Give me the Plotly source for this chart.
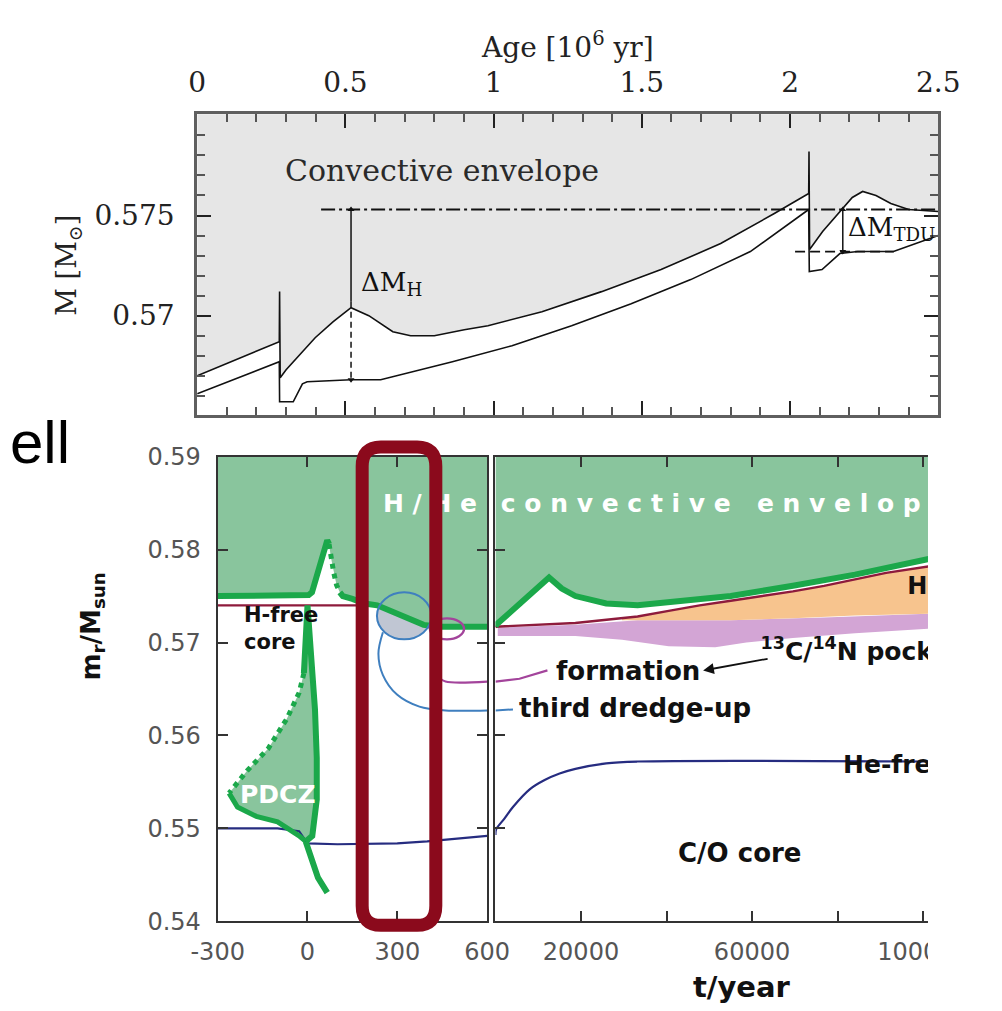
import plotly.graph_objects as go

W, H = 1002, 1011
NB = "\u00a0"

# ---------------- TOP PANEL DATA (age in 10^6 yr, mass in Msun) ----------------
top_xtick_vals = [0, 0.5, 1, 1.5, 2, 2.5]
top_xtick_text = ["0", "0.5", "1", "1.5", "2", "2.5"]
top_ytick_vals = [0.570, 0.575]
top_ytick_text = ["0.57", "0.575"]

env_base_age = [0.000, 0.277, 0.278, 0.280, 0.300, 0.338, 0.398, 0.459, 0.519, 0.579,
                0.660, 0.720, 0.800, 0.901, 0.981, 1.163, 1.364, 1.565, 1.766, 1.947,
                2.063, 2.064, 2.066, 2.110, 2.167, 2.210, 2.245, 2.290, 2.340, 2.400, 2.500]
env_base_mass = [0.5670, 0.5687, 0.5712, 0.5669, 0.5673, 0.5679, 0.5689, 0.5697, 0.5704, 0.5700,
                 0.5692, 0.5690, 0.5690, 0.5693, 0.5695, 0.5702, 0.5712, 0.5723, 0.5736, 0.5751,
                 0.5761, 0.5782, 0.5733, 0.5742, 0.5752, 0.5759, 0.5762, 0.5760, 0.5756, 0.5753, 0.5752]

core_age = [0.000, 0.277, 0.278, 0.324, 0.355, 0.371, 0.519, 0.619, 0.861, 1.062,
            1.263, 1.464, 1.665, 1.866, 2.063, 2.065, 2.108, 2.168, 2.228, 2.349, 2.500]
core_mass = [0.5661, 0.5677, 0.5657, 0.5657, 0.5666, 0.5667, 0.5668, 0.5668, 0.5677, 0.5685,
             0.5695, 0.5706, 0.5718, 0.5732, 0.5753, 0.5722, 0.5723, 0.5731, 0.5732, 0.5732, 0.5740]

dm_ref_high = 0.5753
dm_ref_high_span = [0.418, 2.5]
dm_ref_low = 0.5732
dm_ref_low_span = [2.017, 2.35]
dmh_age = 0.519
dmh_levels = [0.5753, 0.5707, 0.5668]
dmtdu_age = 2.178

# ---------------- BOTTOM-LEFT PANEL DATA (t in yr around pulse) ----------------
left_xtick_vals = [-300, 0, 300, 600]
left_xtick_text = ["-300", "0", "300", "600"]
bot_ytick_vals = [0.54, 0.55, 0.56, 0.57, 0.58, 0.59]
bot_ytick_text = ["0.54", "0.55", "0.56", "0.57", "0.58", "0.59"]

envL_t = [-300, 0, 4, 15, 30, 46, 58, 66, 72, 78, 87, 97, 108, 118, 150, 191, 233, 284, 337, 388, 440, 500, 600]
envL_m = [0.5750, 0.5750, 0.5751, 0.5754, 0.5772, 0.5792, 0.5804, 0.5810, 0.5806, 0.5792, 0.5776,
          0.5762, 0.5754, 0.5750, 0.5747, 0.5742, 0.5740, 0.5733, 0.5726, 0.5719, 0.5717, 0.5717, 0.5717]

hfreeL_t = [-300, 230, 284, 337, 389, 440, 600]
hfreeL_m = [0.5740, 0.5740, 0.5732, 0.5725, 0.5718, 0.5716, 0.5716]

hefreeL_t = [-300, -100, -28, -10, 0, 100, 300, 400, 500, 600]
hefreeL_m = [0.5500, 0.5500, 0.5497, 0.5489, 0.5484, 0.5483, 0.5484, 0.5486, 0.5489, 0.5492]

pdcz_t = [0, -12, -28, -69, -131, -202, -246, -262, -234, -171, -100, -28, -6, 16, 31, 31, 25, 16, 3, 0]
pdcz_m = [0.5740, 0.5667, 0.5646, 0.5618, 0.5586, 0.5562, 0.5544, 0.5538, 0.5523, 0.5513, 0.5507,
          0.5492, 0.5486, 0.5492, 0.5531, 0.5576, 0.5628, 0.5670, 0.5722, 0.5740]
pdcz_tail_t = [-6, 15, 35, 66]
pdcz_tail_m = [0.5486, 0.5465, 0.5447, 0.5431]

tdu_lead_L_t = [252, 237, 252, 299, 374, 461, 600]
tdu_lead_L_m = [0.5711, 0.5688, 0.5665, 0.5644, 0.5631, 0.5627, 0.5627]
form_lead_L_t = [430, 420, 440, 461, 600]
form_lead_L_m = [0.5705, 0.5669, 0.5662, 0.5658, 0.5658]

# ---------------- BOTTOM-RIGHT PANEL DATA (t in yr) ----------------
right_xtick_vals = [20000, 60000, 100000]
right_xtick_text = ["20000", "60000", "100000"]
right_ytick_vals = [0.55, 0.56, 0.57, 0.58]

envR_t = [0, 160, 12530, 15500, 18690, 25890, 33240, 40500, 55030, 69560, 84090, 101500]
envR_m = [0.5717, 0.5719, 0.5770, 0.5758, 0.5750, 0.5742, 0.5740, 0.5743, 0.5750, 0.5761, 0.5773, 0.5790]

hfreeR_t = [0, 160, 18690, 33230, 40500, 47750, 55030, 62290, 69550, 76830, 84090, 91350, 101530]
hfreeR_m = [0.5716, 0.5717, 0.5721, 0.5728, 0.5734, 0.5740, 0.5745, 0.5750, 0.5755, 0.5761, 0.5768, 0.5775, 0.5782]

orange_bot_t = [29600, 40500, 55030, 69550, 84090, 101530]
orange_bot_m = [0.5724, 0.5724, 0.5724, 0.5726, 0.5729, 0.5731]

purple_top_t = [530, 18690, 33230, 55030, 76830, 101530]
purple_top_m = [0.5716, 0.5719, 0.5724, 0.5724, 0.5727, 0.5731]
purple_bot_t = [530, 18690, 29600, 40500, 51390, 58660, 69550, 84090, 101530]
purple_bot_m = [0.5707, 0.5707, 0.5703, 0.5696, 0.5695, 0.5700, 0.5705, 0.5710, 0.5715]

hefreeR_t = [0, 160, 2000, 4090, 8000, 11500, 15000, 18690, 25890, 33300, 101150]
hefreeR_m = [0.5493, 0.5499, 0.5510, 0.5523, 0.5542, 0.5552, 0.5559, 0.5564, 0.5570, 0.5572, 0.5572]

tdu_lead_R_t = [0, 4090]
tdu_lead_R_m = [0.5627, 0.5628]
form_lead_R_t = [0, 5610, 12150]
form_lead_R_m = [0.5658, 0.5661, 0.5670]

# ---------------- colours ----------------
GREY_ENV = "#E6E6E6"
GREEN_FILL = "#89C59D"
GREEN_LINE = "#1BA84A"
NAVY = "#262C80"
MAROON = "#8E1B3C"
RED_BOX = "#8B0A1C"
BLUE_C = "#3F7FBF"
MAGENTA = "#A3449B"
ORANGE = "#F7C48E"
PURPLE = "#D3A5D5"

SERIF = "DejaVu Serif"
SANS = "DejaVu Sans"

fig = go.Figure()

def add(tr):
    tr.update(showlegend=False, hoverinfo="skip")
    fig.add_trace(tr)

TOP_CEIL = 0.581
BOT_CEIL = 0.60

# ---- top panel ----
add(go.Scatter(x=env_base_age + [2.5, 0], y=env_base_mass + [TOP_CEIL, TOP_CEIL], fill="toself",
               fillcolor=GREY_ENV, line=dict(width=0), mode="lines", xaxis="x", yaxis="y"))
add(go.Scatter(x=env_base_age, y=env_base_mass, mode="lines", line=dict(color="#111", width=1.6),
               xaxis="x", yaxis="y"))
add(go.Scatter(x=core_age, y=core_mass, mode="lines", line=dict(color="#111", width=1.6),
               xaxis="x", yaxis="y"))
add(go.Scatter(x=dm_ref_high_span, y=[dm_ref_high, dm_ref_high], mode="lines",
               line=dict(color="#111", width=1.8, dash="14px,4px,3px,4px"), xaxis="x", yaxis="y"))
add(go.Scatter(x=dm_ref_low_span, y=[dm_ref_low, dm_ref_low], mode="lines",
               line=dict(color="#111", width=1.8, dash="10px,5px"), xaxis="x", yaxis="y"))
add(go.Scatter(x=[dmh_age, dmh_age], y=dmh_levels[:2], mode="lines",
               line=dict(color="#111", width=1.5), xaxis="x", yaxis="y"))
add(go.Scatter(x=[dmh_age, dmh_age], y=dmh_levels[1:], mode="lines",
               line=dict(color="#111", width=1.5, dash="6px,4px"), xaxis="x", yaxis="y"))
add(go.Scatter(x=[dmh_age, dmh_age], y=[dmh_levels[0], dmh_levels[2]], mode="markers",
               marker=dict(symbol=["triangle-up", "triangle-down"], size=6, color="#111"),
               xaxis="x", yaxis="y"))
add(go.Scatter(x=[dmtdu_age, dmtdu_age], y=[dm_ref_high, dm_ref_low], mode="lines+markers",
               line=dict(color="#111", width=1.5),
               marker=dict(symbol=["triangle-up", "triangle-down"], size=6, color="#111"),
               xaxis="x", yaxis="y"))

# ---- bottom left panel ----
add(go.Scatter(x=envL_t + [600, -300], y=envL_m + [BOT_CEIL, BOT_CEIL], fill="toself",
               fillcolor=GREEN_FILL, line=dict(width=0), mode="lines", xaxis="x2", yaxis="y2"))
add(go.Scatter(x=pdcz_t, y=pdcz_m, fill="toself", fillcolor=GREEN_FILL, line=dict(width=0),
               mode="lines", xaxis="x2", yaxis="y2"))
add(go.Scatter(x=hfreeL_t, y=hfreeL_m, mode="lines", line=dict(color=MAROON, width=2.2),
               xaxis="x2", yaxis="y2"))
add(go.Scatter(x=hefreeL_t, y=hefreeL_m, mode="lines", line=dict(color=NAVY, width=2.2),
               xaxis="x2", yaxis="y2"))
add(go.Scatter(x=envL_t[:9], y=envL_m[:9], mode="lines", line=dict(color=GREEN_LINE, width=6),
               xaxis="x2", yaxis="y2"))
add(go.Scatter(x=envL_t[8:13], y=envL_m[8:13], mode="lines",
               line=dict(color=GREEN_LINE, width=5, dash="dot"), xaxis="x2", yaxis="y2"))
add(go.Scatter(x=envL_t[12:], y=envL_m[12:], mode="lines", line=dict(color=GREEN_LINE, width=6),
               xaxis="x2", yaxis="y2"))
add(go.Scatter(x=pdcz_t[1:8], y=pdcz_m[1:8], mode="lines",
               line=dict(color=GREEN_LINE, width=5, dash="dot"), xaxis="x2", yaxis="y2"))
add(go.Scatter(x=pdcz_t[7:13], y=pdcz_m[7:13], mode="lines", line=dict(color=GREEN_LINE, width=5),
               xaxis="x2", yaxis="y2"))
add(go.Scatter(x=pdcz_t[12:] + [pdcz_t[1]], y=pdcz_m[12:] + [pdcz_m[1]], mode="lines",
               line=dict(color=GREEN_LINE, width=6), xaxis="x2", yaxis="y2"))
add(go.Scatter(x=pdcz_tail_t, y=pdcz_tail_m, mode="lines", line=dict(color=GREEN_LINE, width=6),
               xaxis="x2", yaxis="y2"))
add(go.Scatter(x=tdu_lead_L_t, y=tdu_lead_L_m, mode="lines", line=dict(color=BLUE_C, width=2, shape="spline"),
               xaxis="x2", yaxis="y2"))
add(go.Scatter(x=form_lead_L_t, y=form_lead_L_m, mode="lines", line=dict(color=MAGENTA, width=2.2, shape="spline"),
               xaxis="x2", yaxis="y2"))
add(go.Scatter(x=[252], y=[0.5847], mode="text", text=[NB.join(["H", "/", "H", "e"])],
               textposition="middle right", textfont=dict(family=SANS, size=25, color="white", weight="bold"),
               xaxis="x2", yaxis="y2"))

# ---- bottom right panel ----
add(go.Scatter(x=envR_t + [101500, 0], y=envR_m + [BOT_CEIL, BOT_CEIL], fill="toself",
               fillcolor=GREEN_FILL, line=dict(width=0), mode="lines", xaxis="x3", yaxis="y3"))
add(go.Scatter(x=purple_top_t + purple_bot_t[::-1], y=purple_top_m + purple_bot_m[::-1], fill="toself",
               fillcolor=PURPLE, line=dict(width=0), mode="lines", xaxis="x3", yaxis="y3"))
orange_top_t = [29600] + hfreeR_t[3:]
orange_top_m = [0.5726] + hfreeR_m[3:]
add(go.Scatter(x=orange_top_t + orange_bot_t[::-1], y=orange_top_m + orange_bot_m[::-1], fill="toself",
               fillcolor=ORANGE, line=dict(width=0), mode="lines", xaxis="x3", yaxis="y3"))
add(go.Scatter(x=hfreeR_t, y=hfreeR_m, mode="lines", line=dict(color=MAROON, width=2.4),
               xaxis="x3", yaxis="y3"))
add(go.Scatter(x=envR_t, y=envR_m, mode="lines", line=dict(color=GREEN_LINE, width=6),
               xaxis="x3", yaxis="y3"))
add(go.Scatter(x=hefreeR_t, y=hefreeR_m, mode="lines", line=dict(color=NAVY, width=2.2, shape="spline"),
               xaxis="x3", yaxis="y3"))
add(go.Scatter(x=tdu_lead_R_t, y=tdu_lead_R_m, mode="lines", line=dict(color=BLUE_C, width=2),
               xaxis="x3", yaxis="y3"))
add(go.Scatter(x=form_lead_R_t, y=form_lead_R_m, mode="lines", line=dict(color=MAGENTA, width=2.2),
               xaxis="x3", yaxis="y3"))
env_words = NB.join(list("convective")) + NB * 3 + NB.join(list("envelop"))
right_texts = [
    (1250, 0.5847, env_words, "white", 25),
    (96300, 0.5759, "H-", "#111", 24),
    (62000, 0.5688, "<sup>13</sup>C/<sup>14</sup>N pock", "#111", 25),
    (81300, 0.5566, "He-fre", "#111", 25),
]
for tx, ty, tt, tc, ts in right_texts:
    add(go.Scatter(x=[tx], y=[ty], mode="text", text=[tt], textposition="middle right",
                   cliponaxis=True,
                   textfont=dict(family=SANS, size=ts, color=tc, weight="bold"),
                   xaxis="x3", yaxis="y3"))

# ---------------- layout ----------------
def px_x(p):
    return p / W

def px_y(p):
    return 1 - p / H

top_ax = dict(showline=True, linecolor="#5f5f5f", linewidth=3, mirror="ticks", ticks="inside",
              tickcolor="#222", tickwidth=2, ticklen=14, showgrid=False, zeroline=False,
              tickfont=dict(family=SERIF, size=28, color="#222"))
bot_ax = dict(showline=True, linecolor="#333", linewidth=2, ticks="inside", tickcolor="#333",
              tickwidth=2, ticklen=10, showgrid=False, zeroline=False,
              tickfont=dict(family=SANS, size=24, color="#555"))

fig.update_layout(
    width=W, height=H, margin=dict(l=0, r=0, t=0, b=0),
    paper_bgcolor="white", plot_bgcolor="white", showlegend=False,
    xaxis=dict(domain=[px_x(174), px_x(969)], range=[0, 2.5], anchor="y", side="top",
               tickvals=top_xtick_vals, ticktext=top_xtick_text, ticklabelstandoff=8,
               minor=dict(dtick=0.1, tick0=0, ticks="inside", ticklen=8, tickcolor="#555", tickwidth=2),
               **top_ax),
    yaxis=dict(domain=[px_y(404), px_y(95)], range=[0.56505, 0.58005], anchor="x",
               tickvals=top_ytick_vals, ticktext=top_ytick_text, ticklabelstandoff=14,
               minor=dict(dtick=0.001, tick0=0.565, ticks="inside", ticklen=8, tickcolor="#555", tickwidth=2),
               **top_ax),
    xaxis2=dict(domain=[px_x(196), px_x(485)], range=[-300, 600], anchor="y2", mirror="ticks",
                tickvals=left_xtick_vals, ticktext=left_xtick_text, ticklabelstandoff=8, **bot_ax),
    yaxis2=dict(domain=[px_y(925), px_y(447)], range=[0.54, 0.59], anchor="x2", mirror="ticks",
                tickvals=bot_ytick_vals, ticktext=bot_ytick_text, ticklabelstandoff=10, **bot_ax),
    xaxis3=dict(domain=[px_x(494), px_x(958)], range=[0, 101150], anchor="y3", mirror="ticks",
                tickvals=right_xtick_vals, ticktext=right_xtick_text, ticklabelstandoff=8,
                minor=dict(dtick=20000, tick0=0, ticks="inside", ticklen=10, tickcolor="#333", tickwidth=2),
                **bot_ax),
    yaxis3=dict(domain=[px_y(925), px_y(447)], range=[0.54, 0.59], anchor="x3", mirror=False,
                tickvals=right_ytick_vals, showticklabels=False, **bot_ax),
)

shapes = [
    dict(type="circle", xref="x2", yref="y2", x0=232, x1=414, y0=0.57034, y1=0.57540,
         fillcolor="rgba(185,192,206,0.9)", line=dict(width=0), layer="below"),
    dict(type="circle", xref="x2", yref="y2", x0=232, x1=414, y0=0.57034, y1=0.57540,
         line=dict(color=BLUE_C, width=2), layer="above"),
    dict(type="circle", xref="x2", yref="y2", x0=409, x1=523, y0=0.57034, y1=0.57260,
         line=dict(color=MAGENTA, width=2.4), layer="above"),
]
bx0, bx1, by0, by1, r = px_x(351), px_x(430), px_y(437), px_y(929), 20
rx, ry = r / W, r / H
red_path = (f"M {bx0 + rx},{by0} L {bx1 - rx},{by0} Q {bx1},{by0} {bx1},{by0 - ry} "
            f"L {bx1},{by1 + ry} Q {bx1},{by1} {bx1 - rx},{by1} L {bx0 + rx},{by1} "
            f"Q {bx0},{by1} {bx0},{by1 + ry} L {bx0},{by0 - ry} Q {bx0},{by0} {bx0 + rx},{by0} Z")
shapes.append(dict(type="path", xref="paper", yref="paper", path=red_path,
                   line=dict(color=RED_BOX, width=13), layer="above"))
shapes.append(dict(type="rect", xref="paper", yref="paper", x0=px_x(958), x1=1.0, y0=0, y1=px_y(428),
                   fillcolor="white", line=dict(width=0), layer="above"))
fig.update_layout(shapes=shapes)

ann = []
def a(text, x, y, xref="paper", yref="paper", size=25, family=SANS, color="#111", xanchor="center",
      yanchor="middle", angle=0, bold=False, **kw):
    ann.append(dict(text=f"<b>{text}</b>" if bold else text, x=x, y=y, xref=xref, yref=yref,
                    showarrow=False, xanchor=xanchor, yanchor=yanchor, textangle=angle,
                    font=dict(family=family, size=size, color=color), **kw))

a("Age [10<sup>6</sup> yr]", px_x(571), px_y(24), size=28, family=SERIF, color="#222")
a("M [M<sub>⊙</sub>]", px_x(36), px_y(250), size=27, family=SERIF, color="#222", angle=-90)
a("Convective envelope", 0.825, 0.57725, xref="x", yref="y", size=30, family=SERIF, color="#2a2a2a")
a("ΔM<sub>H</sub>", 0.545, 0.5716, xref="x", yref="y", size=26, family=SERIF, color="#111", xanchor="left")
a("ΔM<sub>TDU</sub>", 2.190, 0.57437, xref="x", yref="y", size=26, family=SERIF, color="#111", xanchor="left")

a("ell", px_x(-29), px_y(432), size=60, family="Liberation Sans", color="#000", xanchor="left")
a("m<sub>r</sub>/M<sub>sun</sub>", px_x(62), px_y(622), size=26, angle=-90, bold=True)
a("t/year", px_x(758), px_y(993), size=29, bold=True)
a("H-free<br>core", -218, 0.5715, xref="x2", yref="y2", size=21, xanchor="left", align="left", bold=True)
a("PDCZ", -97, 0.5536, xref="x2", yref="y2", size=25, color="white", bold=True)
a("formation", 31010, 0.56699, xref="x3", yref="y3", size=26, bold=True)
a("third dredge-up", 32530, 0.56301, xref="x3", yref="y3", size=26, bold=True)
a("C/O core", 57040, 0.54733, xref="x3", yref="y3", size=26, bold=True)
ann.append(dict(x=48560, y=0.56699, xref="x3", yref="y3", ax=66, ay=-12, text="", showarrow=True,
                arrowhead=2, arrowsize=1.2, arrowwidth=1.8, arrowcolor="#111"))
fig.update_layout(annotations=ann)

fig.write_html("out.html")
